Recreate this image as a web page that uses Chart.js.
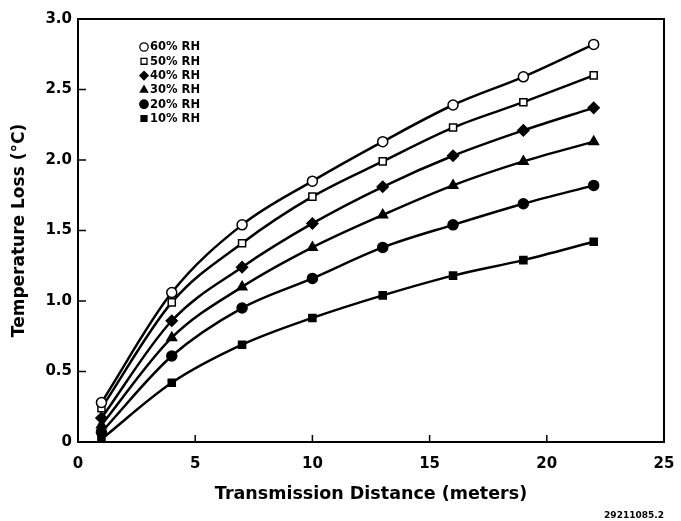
<!DOCTYPE html>
<html>
<head>
<meta charset="utf-8">
<script src="https://cdn.jsdelivr.net/npm/chart.js@4.4.0/dist/chart.umd.min.js"></script>
<style>
html,body{margin:0;padding:0;background:#fff;}
#wrap{width:681px;height:521px;position:relative;}
</style>
</head>
<body>
<div id="wrap"><canvas id="c" width="681" height="521"></canvas></div>
<script>
const distances = [1, 4, 7, 10, 13, 16, 19, 22];
const rh60 = [0.28, 1.06, 1.54, 1.85, 2.13, 2.39, 2.59, 2.82];
const rh50 = [0.24, 0.99, 1.41, 1.74, 1.99, 2.23, 2.41, 2.60];
const rh40 = [0.17, 0.86, 1.24, 1.55, 1.81, 2.03, 2.21, 2.37];
const rh30 = [0.12, 0.74, 1.10, 1.38, 1.61, 1.82, 1.99, 2.13];
const rh20 = [0.07, 0.61, 0.95, 1.16, 1.38, 1.54, 1.69, 1.82];
const rh10 = [0.02, 0.42, 0.69, 0.88, 1.04, 1.18, 1.29, 1.42];
const seriesLabels = ['60% RH', '50% RH', '40% RH', '30% RH', '20% RH', '10% RH'];
const xTicks = [0, 5, 10, 15, 20, 25];
const yTicks = [0, 0.5, 1.0, 1.5, 2.0, 2.5, 3.0];

const seriesValues = [rh60, rh50, rh40, rh30, rh20, rh10];
const styles = [
  {ps: 'circle', fill: '#fff', r: 5},
  {ps: 'rect', fill: '#fff', r: 5},
  {ps: 'rectRot', fill: '#000', r: 5.5},
  {ps: 'triangle', fill: '#000', r: 5.5},
  {ps: 'circle', fill: '#000', r: 5},
  {ps: 'rect', fill: '#000', r: 5}
];

const datasets = seriesValues.map((vals, i) => ({
  label: seriesLabels[i],
  data: distances.map((d, j) => ({x: d, y: vals[j]})),
  borderColor: '#000',
  borderWidth: 2.5,
  pointStyle: styles[i].ps,
  pointRadius: styles[i].r,
  pointBackgroundColor: styles[i].fill,
  pointBorderColor: '#000',
  pointBorderWidth: 1.5,
  cubicInterpolationMode: 'monotone',
  fill: false
}));

const FONT = '"DejaVu Sans", Verdana, sans-serif';

const decor = {
  id: 'decor',
  afterDatasetsDraw(chart) {
    const ctx = chart.ctx;
    const a = chart.chartArea;
    const xs = chart.scales.x, ys = chart.scales.y;
    ctx.save();
    ctx.strokeStyle = '#000';
    ctx.lineWidth = 2;
    ctx.strokeRect(a.left, a.top, a.right - a.left, a.bottom - a.top);
    ctx.lineWidth = 1.5;
    yTicks.forEach(v => {
      const py = ys.getPixelForValue(v);
      ctx.beginPath(); ctx.moveTo(a.left, py); ctx.lineTo(a.left + 8, py); ctx.stroke();
    });
    xTicks.forEach(v => {
      const px = xs.getPixelForValue(v);
      ctx.beginPath(); ctx.moveTo(px, a.bottom); ctx.lineTo(px, a.bottom - 7); ctx.stroke();
    });
    // legend
    ctx.font = 'bold 11.5px ' + FONT;
    ctx.textBaseline = 'middle';
    ctx.textAlign = 'left';
    chart.data.datasets.forEach((ds, i) => {
      const y = 47 + i * 14.3;
      const x = 144;
      ctx.fillStyle = ds.pointBackgroundColor;
      ctx.strokeStyle = '#000';
      ctx.lineWidth = 1.3;
      Chart.helpers.drawPoint(ctx, {pointStyle: ds.pointStyle, radius: 4.2, borderWidth: 1.3}, x, y);
      ctx.fillStyle = '#000';
      ctx.fillText(ds.label, 150, y + 0.5);
    });
    ctx.font = 'bold 9px ' + FONT;
    ctx.textAlign = 'center';
    ctx.fillText('29211085.2', 634, 516);
    ctx.restore();
  }
};

new Chart(document.getElementById('c'), {
  type: 'line',
  data: {datasets},
  options: {
    responsive: false,
    animation: false,
    devicePixelRatio: 1,
    layout: {padding: {left: 9, right: 17, top: 19, bottom: 16}},
    plugins: {legend: {display: false}, tooltip: {enabled: false}},
    scales: {
      x: {
        type: 'linear', min: 0, max: 25,
        afterBuildTicks(s) { s.ticks = xTicks.map(v => ({value: v})); },
        afterFit(s) { s.height = 63; s.paddingRight = 0; s.paddingLeft = 0; },
        grid: {display: false, drawTicks: false},
        border: {display: false},
        ticks: {color: '#000', font: {family: FONT, size: 15, weight: 'bold'}, padding: 13,
          callback: v => String(v)},
        title: {display: true, text: 'Transmission Distance (meters)', color: '#000',
          font: {family: FONT, size: 17.5, weight: 'bold'}, padding: 0}
      },
      y: {
        type: 'linear', min: 0, max: 3,
        afterBuildTicks(s) { s.ticks = yTicks.map(v => ({value: v})); },
        afterFit(s) { s.width = 69; s.paddingTop = 0; s.paddingBottom = 0; },
        grid: {display: false, drawTicks: false},
        border: {display: false},
        ticks: {color: '#000', font: {family: FONT, size: 15, weight: 'bold'}, padding: 6,
          callback: v => v === 0 ? '0' : v.toFixed(1)},
        title: {display: true, text: 'Temperature Loss (°C)', color: '#000',
          font: {family: FONT, size: 17, weight: 'bold'}, padding: 0}
      }
    }
  },
  plugins: [decor]
});
</script>
</body>
</html>
